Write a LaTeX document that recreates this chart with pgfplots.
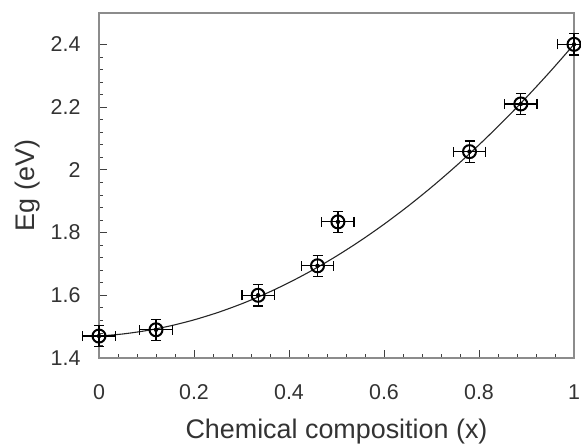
\documentclass[border=0pt]{standalone}
\usepackage{pgfplots}
\pgfplotsset{compat=1.18}
\usepackage{fontspec}
\setmainfont{Liberation Sans}
\begin{document}
\begin{tikzpicture}
\pgfplotstableread{
x      y      ex     ey
0      1.47   0.034  0.034
0.12   1.49   0.034  0.034
0.335  1.60   0.034  0.034
0.46   1.694  0.034  0.034
0.503  1.834  0.034  0.034
0.78   2.058  0.034  0.034
0.888  2.21   0.034  0.034
1      2.40   0.034  0.034
}\points
\begin{axis}[
  scale only axis,
  width=475bp, height=345bp,
  xmin=0, xmax=1, ymin=1.4, ymax=2.5,
  xtick={0,0.2,0.4,0.6,0.8,1},
  ytick={1.4,1.6,1.8,2,2.2,2.4},
  minor tick num=4,
  tick pos=left,
  tick align=inside,
  major tick length=8bp,
  minor tick length=4.5bp,
  every tick/.style={black!75, line width=0.8bp},
  axis line style={black!45, line width=1.3bp},
  clip=false,
  /pgf/number format/assume math mode=true,
  ticklabel style={font=\fontsize{21.5}{21.5}\selectfont, text=black!80},
  xticklabel style={yshift=-23bp},
  yticklabel style={xshift=-15bp},
  xlabel={Chemical composition (x)},
  ylabel={Eg (eV)},
  label style={font=\fontsize{27}{27}\selectfont, text=black!80},
  xlabel style={yshift=-12bp},
  ylabel style={yshift=4bp},
]
% fitted bowing curve
\addplot[black!85, line width=1.1bp, smooth] coordinates {
  (0,1.47) (0.05,1.4766) (0.1,1.4874) (0.15,1.5024) (0.2,1.5216)
  (0.25,1.545) (0.3,1.5726) (0.35,1.6044) (0.4,1.6404) (0.45,1.6806)
  (0.5,1.725) (0.55,1.7736) (0.6,1.8264) (0.65,1.8834) (0.7,1.9446)
  (0.75,2.01) (0.8,2.0796) (0.85,2.1534) (0.9,2.2314) (0.95,2.3136)
  (1,2.40)
};
% error bars, both directions, with caps
\addplot[only marks, mark=none, black,
  error bars/.cd, x dir=both, x explicit, y dir=both, y explicit,
  error bar style={line width=1.2bp},
  error mark options={rotate=90, mark size=5bp, line width=1.2bp}]
  table[x=x, y=y, x error=ex, y error=ey] {\points};
% measured points
\addplot[only marks, black, mark=o, mark size=6.5bp,
  mark options={fill=white, line width=2bp}]
  table[x=x, y=y] {\points};
\end{axis}
\pgfresetboundingbox
\path[use as bounding box] (-99bp,-89bp) rectangle (482bp,358bp);
\end{tikzpicture}
\end{document}
